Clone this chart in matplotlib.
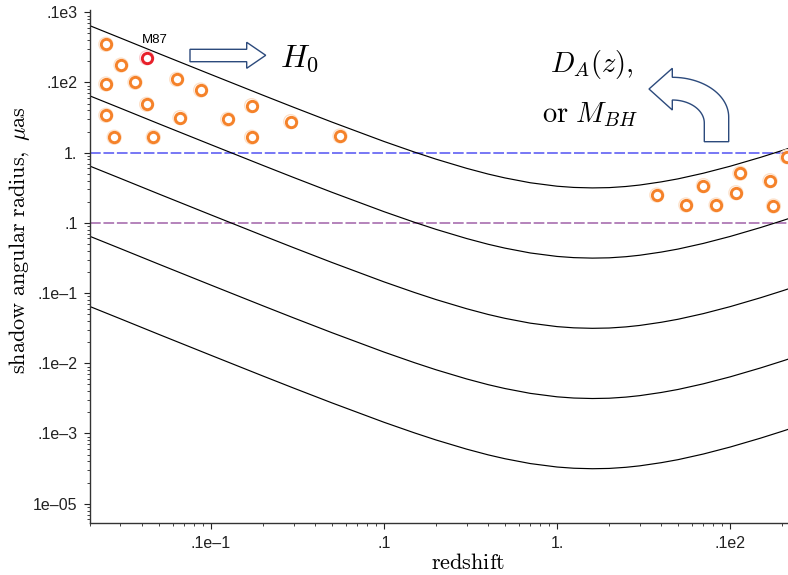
import numpy as np
import matplotlib
matplotlib.use("Agg")
import matplotlib.pyplot as plt
from matplotlib.patches import Polygon
from matplotlib.ticker import FixedLocator, FixedFormatter, LogLocator, NullFormatter

# ---------------- data ----------------
redshift = [0.002, 0.003, 0.005, 0.01, 0.02, 0.03, 0.05, 0.1, 0.15, 0.2, 0.3, 0.4,
            0.5, 0.7, 1.0, 1.25, 1.6, 2.0, 2.5, 3.0, 4.0, 5.0, 7.0, 10.0, 15.0, 20.0, 22.0]
theta_top = [64.3, 43.0, 25.8, 13.0, 6.58, 4.44, 2.73, 1.445, 1.020, 0.808, 0.599, 0.496,
             0.437, 0.373, 0.333, 0.320, 0.315, 0.318, 0.330, 0.346, 0.384, 0.424, 0.510,
             0.641, 0.859, 1.075, 1.161]
mass_scale = [1.0, 0.1, 0.01, 0.001, 0.0001]

near_z = [0.00247, 0.00302, 0.00247, 0.00364, 0.00634, 0.00872, 0.00425, 0.00247,
          0.00662, 0.0125, 0.01718, 0.0289, 0.00276, 0.00464, 0.01718, 0.0557]
near_theta = [35.0, 17.7, 9.52, 10.07, 11.1, 7.81, 4.89, 3.41,
              3.16, 2.99, 4.68, 2.77, 1.66, 1.66, 1.66, 1.73]
m87_z = [0.00425]
m87_theta = [22.5]
far_z = [3.77, 5.55, 7.01, 8.30, 10.8, 11.4, 17.0, 17.8, 21.3]
far_theta = [0.249, 0.180, 0.339, 0.180, 0.269, 0.509, 0.399, 0.174, 0.877]

limit_levels = [1.0, 0.1]
limit_colors = ["#5252f2", "#a062a8"]

xtick_vals = [0.01, 0.1, 1.0, 10.0]
xtick_labels = [".1e\u20131", ".1", "1.", ".1e2"]
ytick_vals = [1e-5, 1e-4, 1e-3, 1e-2, 0.1, 1.0, 10.0, 100.0]
ytick_labels = ["1e\u201305", ".1e\u20133", ".1e\u20132", ".1e\u20131", ".1", "1.", ".1e2", ".1e3"]

# ---------------- figure ----------------
plt.rcParams["mathtext.fontset"] = "cm"
plt.rcParams["font.family"] = ["Liberation Sans", "DejaVu Sans"]

W, H = 788, 575
fig = plt.figure(figsize=(W / 100, H / 100), dpi=100)
ax = fig.add_axes([90 / W, 1 - 523 / H, (788 - 90) / W, (523 - 10) / H])


def fpx(x, y):
    return (x / W, 1 - y / H)


ax.set_xscale("log")
ax.set_yscale("log")
ax.set_xlim(0.002, 21.6)
ax.set_ylim(5.31e-6, 107.8)

for s in mass_scale:
    ax.plot(redshift, [t * s for t in theta_top], color="black", lw=0.85, zorder=2)

for lev, col in zip(limit_levels, limit_colors):
    ax.axhline(lev, color=col, lw=1.1, ls=(0, (7, 1.8)), zorder=1)

# ring markers with soft halo
ring_z = near_z + far_z
ring_t = near_theta + far_theta
ax.scatter(ring_z, ring_t, s=102, facecolors="none",
           edgecolors="#fde0c8", linewidths=0.9, zorder=3)
ax.scatter(ring_z, ring_t, s=55, facecolors="white",
           edgecolors="#f5822a", linewidths=2.1, zorder=4)
ax.scatter(m87_z, m87_theta, s=102, facecolors="none",
           edgecolors="#fad0d3", linewidths=0.9, zorder=3)
ax.scatter(m87_z, m87_theta, s=55, facecolors="white",
           edgecolors="#e8202a", linewidths=2.1, zorder=4)

# ticks
ax.xaxis.set_major_locator(FixedLocator(xtick_vals))
ax.xaxis.set_major_formatter(FixedFormatter(xtick_labels))
ax.yaxis.set_major_locator(FixedLocator(ytick_vals))
ax.yaxis.set_major_formatter(FixedFormatter(ytick_labels))
for a in (ax.xaxis, ax.yaxis):
    a.set_minor_locator(LogLocator(base=10, subs=np.arange(2, 10), numticks=60))
    a.set_minor_formatter(NullFormatter())
ax.tick_params(which="major", direction="out", length=4, width=0.8, labelsize=11.5,
               pad=5, colors="#222222")
ax.tick_params(which="minor", direction="out", length=2, width=0.6, colors="#222222")

for side in ("top", "right"):
    ax.spines[side].set_visible(False)
for side in ("left", "bottom"):
    ax.spines[side].set_linewidth(1.0)
    ax.spines[side].set_color("#333333")

# axis labels
ax.set_xlabel(r"$\mathrm{redshift}$", fontsize=16)
ax.set_ylabel(r"$\mathrm{shadow\ angular\ radius,\ }\mu\mathrm{as}$", fontsize=16)
xl = ax.xaxis.label
xl.set_horizontalalignment("center")
xl.set_verticalalignment("baseline")
ax.xaxis.set_label_coords(*fpx(468.4, 569.3), transform=fig.transFigure)
yl = ax.yaxis.label
yl.set_horizontalalignment("center")
yl.set_verticalalignment("baseline")
ax.yaxis.set_label_coords(*fpx(25, 240), transform=fig.transFigure)

# annotations
fig.text(*fpx(141.5, 43.3), "M87", fontsize=9.5, ha="left", va="baseline", color="black")
fig.text(*fpx(280, 66.5), r"$H_0$", fontsize=23, ha="left", va="baseline")
fig.text(*fpx(549.5, 71.7), r"$D_A(z),$", fontsize=20.5, ha="left", va="baseline")
fig.text(*fpx(542.5, 121.7), r"$\mathrm{or}\ M_{BH}$", fontsize=20.5, ha="left", va="baseline")

arrow_col = "#2c4a7c"
right_arrow = [(190, 49.3), (246.7, 49.3), (246.7, 42.3), (265.7, 55.3),
               (246.7, 68.3), (246.7, 61.7), (190, 61.7)]
fig.patches.append(Polygon([fpx(*p) for p in right_arrow], closed=True,
                           transform=fig.transFigure, facecolor="white",
                           edgecolor=arrow_col, lw=1.0, zorder=5))

# curved (u-turn) arrow
t = np.linspace(0, np.pi / 2, 30)
cx_i, cy_i, rx_i, ry_i = 672.3, 123.0, 32.0, 23.0
inner = [(cx_i + rx_i * np.cos(a), cy_i - ry_i * np.sin(a)) for a in t]
cx_o, cy_o, rx_o, ry_o = 672.3, 117.0, 56.4, 39.7
outer = [(cx_o + rx_o * np.cos(a), cy_o - ry_o * np.sin(a)) for a in t]
uturn = ([(704.3, 141.7)] + inner + [(672.3, 110.0), (649.0, 89.0), (672.3, 68.3)]
         + outer[::-1] + [(728.7, 141.7)])
fig.patches.append(Polygon([fpx(*p) for p in uturn], closed=True,
                           transform=fig.transFigure, facecolor="white",
                           edgecolor=arrow_col, lw=1.0, zorder=5))

fig.savefig("out.png", dpi=100, facecolor="white")
